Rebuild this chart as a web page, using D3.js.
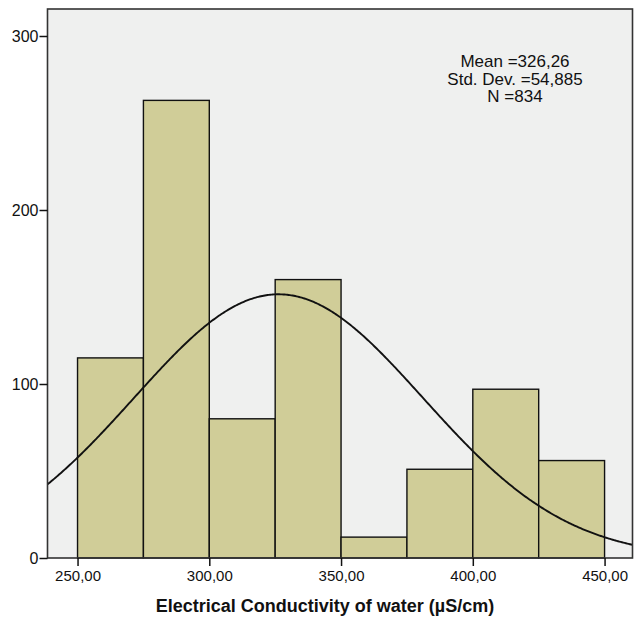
<!DOCTYPE html>
<html>
<head>
<meta charset="utf-8">
<script src="https://cdn.jsdelivr.net/npm/d3@7"></script>
<style>
  html, body { margin: 0; padding: 0; background: #ffffff; }
  svg { display: block; }
  text { font-family: "Liberation Sans", Arial, sans-serif; fill: #111; }
</style>
</head>
<body>
<svg id="chart" width="640" height="619"></svg>
<script>
// Histogram bins (lower edge, upper edge) and frequencies
const binStarts = [250, 275, 300, 325, 350, 375, 400, 425];
const binWidth = 25;
const counts = [115, 263, 80, 160, 12, 51, 97, 56];

// Summary statistics
const mean = 326.26;
const stdDev = 54.885;
const n = 834;

// Axis ticks
const xTicks = [250, 300, 350, 400, 450];
const yTicks = [0, 100, 200, 300];

const svg = d3.select("#chart");
const plot = { left: 47.5, top: 9, right: 632.5, bottom: 558 };

const x = d3.scaleLinear().domain([238.6, 460.6]).range([plot.left, plot.right]);
const y = d3.scaleLinear().domain([0, 100]).range([plot.bottom, plot.bottom - 174]);

const fmt = v => v.toFixed(2).replace(".", ",");

// Plot background
svg.append("rect")
  .attr("x", plot.left).attr("y", plot.top)
  .attr("width", plot.right - plot.left).attr("height", plot.bottom - plot.top)
  .attr("fill", "#eff0ef");

svg.append("clipPath").attr("id", "plotClip")
  .append("rect")
  .attr("x", plot.left).attr("y", plot.top)
  .attr("width", plot.right - plot.left).attr("height", plot.bottom - plot.top);

// Bars
svg.append("g").selectAll("rect")
  .data(binStarts.map((s, i) => ({ s, c: counts[i] })))
  .join("rect")
  .attr("x", d => x(d.s))
  .attr("y", d => y(d.c))
  .attr("width", d => x(d.s + binWidth) - x(d.s))
  .attr("height", d => y(0) - y(d.c))
  .attr("fill", "#d0cd98")
  .attr("stroke", "#111")
  .attr("stroke-width", 1.4);

// Fitted normal curve scaled to the histogram
const scaleFactor = n * binWidth / (stdDev * Math.sqrt(2 * Math.PI));
const curvePts = d3.range(x.domain()[0], x.domain()[1] + 0.5, 0.5)
  .map(v => [v, scaleFactor * Math.exp(-0.5 * Math.pow((v - mean) / stdDev, 2))]);
svg.append("path")
  .datum(curvePts)
  .attr("clip-path", "url(#plotClip)")
  .attr("fill", "none")
  .attr("stroke", "#111")
  .attr("stroke-width", 1.9)
  .attr("d", d3.line().x(d => x(d[0])).y(d => y(d[1])));

// Frame
svg.append("rect")
  .attr("x", plot.left).attr("y", plot.top)
  .attr("width", plot.right - plot.left).attr("height", plot.bottom - plot.top)
  .attr("fill", "none")
  .attr("stroke", "#333")
  .attr("stroke-width", 1.6);

// X axis
const xAxis = svg.append("g")
  .attr("transform", `translate(0,${plot.bottom})`)
  .call(d3.axisBottom(x).tickValues(xTicks).tickFormat(fmt).tickSize(8).tickPadding(4));
xAxis.select(".domain").remove();
xAxis.selectAll(".tick line").attr("stroke", "#111").attr("stroke-width", 1.5);
xAxis.selectAll(".tick text").attr("font-size", 15).attr("fill", "#111")
  .attr("font-family", "'Liberation Sans', Arial, sans-serif");

// Y axis
const yAxis = svg.append("g")
  .attr("transform", `translate(${plot.left},0)`)
  .call(d3.axisLeft(y).tickValues(yTicks).tickFormat(d3.format("d")).tickSize(8).tickPadding(1));
yAxis.select(".domain").remove();
yAxis.selectAll(".tick line").attr("stroke", "#111").attr("stroke-width", 1.5);
yAxis.selectAll(".tick text").attr("font-size", 16).attr("fill", "#111")
  .attr("font-family", "'Liberation Sans', Arial, sans-serif");

// Axis title
svg.append("text")
  .attr("x", 325).attr("y", 612)
  .attr("text-anchor", "middle")
  .attr("font-size", 18).attr("font-weight", "bold")
  .text("Electrical Conductivity of water (µS/cm)");

// Statistics box
const statLines = [
  "Mean =" + mean.toFixed(2).replace(".", ","),
  "Std. Dev. =" + stdDev.toFixed(3).replace(".", ","),
  "N =" + n
];
svg.append("g").selectAll("text")
  .data(statLines)
  .join("text")
  .attr("x", 515)
  .attr("y", (d, i) => 67 + i * 17.5)
  .attr("text-anchor", "middle")
  .attr("font-size", 17)
  .text(d => d);
</script>
</body>
</html>
